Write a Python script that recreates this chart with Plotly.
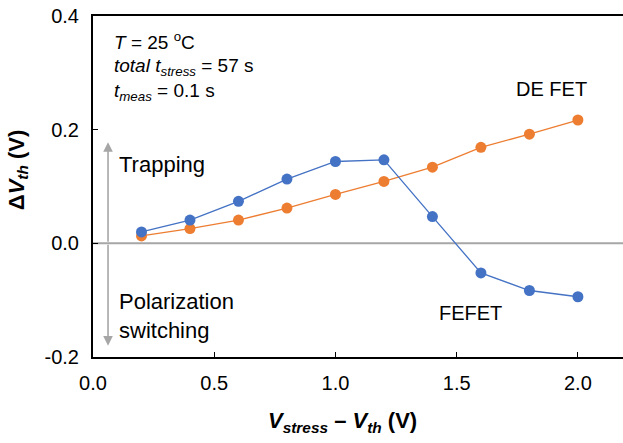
import plotly.graph_objects as go

x_vals = [0.2, 0.4, 0.6, 0.8, 1.0, 1.2, 1.4, 1.6, 1.8, 2.0]
fefet = [0.020, 0.041, 0.074, 0.113, 0.144, 0.147, 0.047, -0.052, -0.083, -0.094]
defet = [0.013, 0.026, 0.041, 0.062, 0.086, 0.109, 0.134, 0.169, 0.192, 0.217]
x_ticks = [0.0, 0.5, 1.0, 1.5, 2.0]
y_ticks = [-0.2, 0.0, 0.2, 0.4]

FONT = "Liberation Sans, Arial, sans-serif"
BLUE = "#4472C4"
ORANGE = "#ED7D31"
GRAY = "#A6A6A6"

fig = go.Figure()
fig.add_trace(go.Scatter(x=x_vals, y=defet, mode="lines+markers", name="DE FET",
                         line=dict(color=ORANGE, width=1.3),
                         marker=dict(color=ORANGE, size=11)))
fig.add_trace(go.Scatter(x=x_vals, y=fefet, mode="lines+markers", name="FEFET",
                         line=dict(color=BLUE, width=1.3),
                         marker=dict(color=BLUE, size=11)))

# zero line
fig.add_shape(type="line", xref="paper", yref="y", x0=0, x1=1, y0=0, y1=0,
              line=dict(color=GRAY, width=2), layer="below")

# double arrow
arrow_x = 0.062
for y_end in (0.178, -0.18):
    fig.add_annotation(x=arrow_x, y=y_end, ax=arrow_x, ay=0.0, xref="x", yref="y",
                       axref="x", ayref="y", text="", showarrow=True,
                       arrowhead=2, arrowsize=1.2, arrowwidth=1.6, arrowcolor=GRAY)

fig.add_annotation(x=0.1, y=0.139, xref="x", yref="y", text="Trapping",
                   showarrow=False, xanchor="left", yanchor="middle",
                   font=dict(family=FONT, size=22, color="black"))
fig.add_annotation(x=0.1, y=-0.127, xref="x", yref="y", text="Polarization<br>switching",
                   showarrow=False, xanchor="left", yanchor="middle", align="left",
                   font=dict(family=FONT, size=22, color="black"))
fig.add_annotation(x=1.893, y=0.271, xref="x", yref="y", text="DE FET",
                   showarrow=False, xanchor="center", yanchor="middle",
                   font=dict(family=FONT, size=20, color="black"))
fig.add_annotation(x=1.555, y=-0.123, xref="x", yref="y", text="FEFET",
                   showarrow=False, xanchor="center", yanchor="middle",
                   font=dict(family=FONT, size=20, color="black"))

info_lines = ["<i>T</i> = 25 <sup>o</sup>C",
              "<i>total t<sub>stress</sub></i> = 57 s",
              "<i>t<sub>meas</sub></i> = 0.1 s"]
info_y = [0.356, 0.310, 0.266]
for txt, yy in zip(info_lines, info_y):
    fig.add_annotation(x=0.078, y=yy, xref="x", yref="y", text=txt,
                       showarrow=False, xanchor="left", yanchor="middle", align="left",
                       font=dict(family=FONT, size=19, color="black"))

# axis titles as annotations (precise placement)
fig.add_annotation(x=-0.1415, y=0.548, xref="paper", yref="paper",
                   text="<b>Δ<i>V<sub>th</sub></i> (V)</b>", textangle=-90,
                   showarrow=False, xanchor="center", yanchor="middle",
                   font=dict(family=FONT, size=22, color="black"))
fig.add_annotation(x=0.470, y=-0.19, xref="paper", yref="paper",
                   text="<b><i>V<sub>stress</sub></i> – <i>V<sub>th</sub></i> (V)</b>",
                   showarrow=False, xanchor="center", yanchor="middle",
                   font=dict(family=FONT, size=22, color="black"))

fig.update_layout(
    width=623, height=443,
    margin=dict(l=93, r=0, t=16, b=86),
    paper_bgcolor="white", plot_bgcolor="white",
    showlegend=False,
    font=dict(family=FONT, size=20, color="black"),
    xaxis=dict(range=[0, 2.186], tickvals=x_ticks, ticktext=[f"{v:.1f}" for v in x_ticks],
               ticks="inside", ticklen=5, tickwidth=1, tickcolor="black",
               showline=True, linecolor="black", linewidth=2, mirror=True,
               showgrid=False, zeroline=False, ticklabelstandoff=7,
               tickfont=dict(family=FONT, size=20)),
    yaxis=dict(range=[-0.2, 0.4], tickvals=y_ticks, ticktext=[f"{v:.1f}" for v in y_ticks],
               ticks="inside", ticklen=5, tickwidth=1, tickcolor="black",
               showline=True, linecolor="black", linewidth=2,
               showgrid=False, zeroline=False, ticklabelstandoff=8,
               tickfont=dict(family=FONT, size=20)),
)

fig.write_html("out.html")
